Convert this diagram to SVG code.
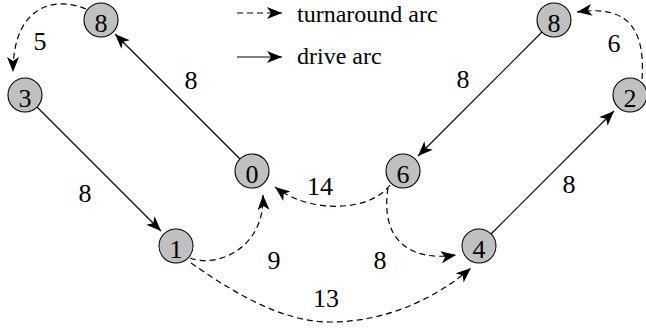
<svg xmlns="http://www.w3.org/2000/svg" width="646" height="332" viewBox="0 0 646 332">
<style>
.node circle{fill:#c0c0c0;stroke:#000;stroke-width:1.1}
text{font-family:"Liberation Serif",Tinos,"Times New Roman",Times,"Nimbus Roman","FreeSerif","DejaVu Serif",serif;font-size:26px;fill:#000}
.nt{text-anchor:middle}
.lb{text-anchor:middle}
.e{fill:none;stroke:#000;stroke-width:1.2}
.d{stroke-dasharray:6 4}
</style>
<defs>
<marker id="ah" markerUnits="userSpaceOnUse" markerWidth="18" markerHeight="14" refX="15" refY="6" orient="auto">
<path d="M0,0 L15,6 L0,12 L4,6 z" fill="#000"/>
</marker>
</defs>
<g id="legend">
<line class="e d" x1="237" y1="13" x2="282" y2="13" marker-end="url(#ah)"/>
<text x="297" y="22" style="font-size:24px">turnaround arc</text>
<line class="e" x1="237" y1="57" x2="282" y2="57" marker-end="url(#ah)"/>
<text x="297" y="64" style="font-size:24px">drive arc</text>
</g>
<g id="connectors">
<path class="e" d="M240,159 L115,34" marker-end="url(#ah)"/>
<path class="e" d="M37,107 L161,231" marker-end="url(#ah)"/>
<path class="e" d="M542,32 L418,156" marker-end="url(#ah)"/>
<path class="e" d="M491,234 L614,111" marker-end="url(#ah)"/>
<path class="e d" d="M86,9 C55,-4 13,5 13,72" marker-end="url(#ah)"/>
<path class="e d" d="M642,79 C646,20 620,6 577,12" marker-end="url(#ah)"/>
<path class="e d" d="M190,258 C215,268 265,250 263,195" marker-end="url(#ah)"/>
<path class="e d" d="M390,185 C370,212 310,214 275,187" marker-end="url(#ah)"/>
<path class="e d" d="M388,188 C380,240 410,262 456,255" marker-end="url(#ah)"/>
<path class="e d" d="M191,263 C230,290 280,322 330,322 C390,322 440,295 471,268" marker-end="url(#ah)"/>
<text class="lb" x="40" y="50">5</text>
<text class="lb" x="191" y="89">8</text>
<text class="lb" x="85" y="202">8</text>
<text class="lb" x="320" y="195">14</text>
<text class="lb" x="274" y="269">9</text>
<text class="lb" x="326" y="307">13</text>
<text class="lb" x="380" y="269">8</text>
<text class="lb" x="569" y="193">8</text>
<text class="lb" x="463" y="88">8</text>
<text class="lb" x="614" y="52">6</text>
</g>
<g id="n8a" class="node"><circle cx="101" cy="20" r="17"/><text class="nt" x="101" y="32">8</text></g>
<g id="n3" class="node"><circle cx="25" cy="95" r="17"/><text class="nt" x="25" y="107">3</text></g>
<g id="n0" class="node"><circle cx="252" cy="171" r="17"/><text class="nt" x="252" y="183">0</text></g>
<g id="n1" class="node"><circle cx="176" cy="246" r="17"/><text class="nt" x="176" y="258">1</text></g>
<g id="n6" class="node"><circle cx="403" cy="171" r="17"/><text class="nt" x="403" y="183">6</text></g>
<g id="n4" class="node"><circle cx="479" cy="246" r="17"/><text class="nt" x="479" y="258">4</text></g>
<g id="n8b" class="node"><circle cx="554" cy="20" r="17"/><text class="nt" x="554" y="32">8</text></g>
<g id="n2" class="node"><circle cx="630" cy="95" r="17"/><text class="nt" x="630" y="107">2</text></g>
</svg>
